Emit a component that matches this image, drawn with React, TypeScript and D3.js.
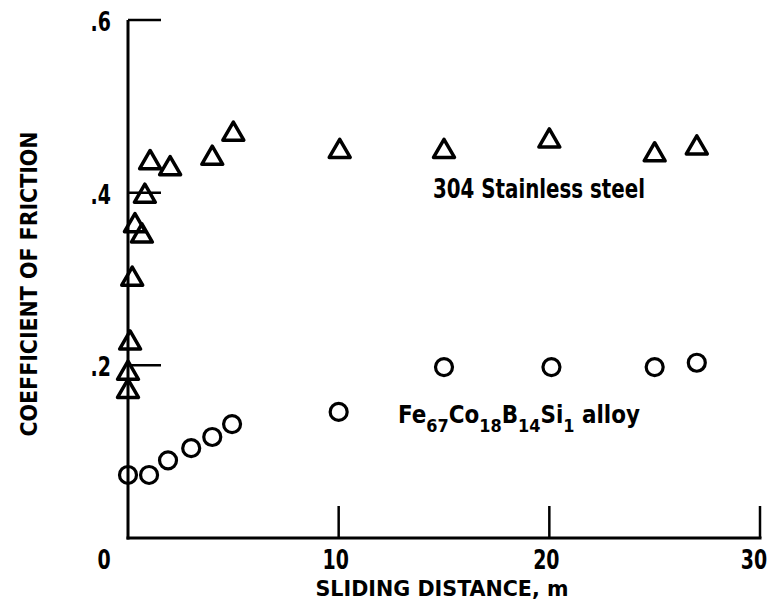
import React from "react";
import * as d3 from "d3";

const steelX = [0, 0, 0.1, 0.2, 0.33, 0.66, 0.8, 1.05, 2.0, 4.0, 5.0, 10.05, 15.0, 20.0, 25.0, 27.0];
const steelY = [0.171, 0.192, 0.227, 0.301, 0.363, 0.351, 0.397, 0.436, 0.429, 0.441, 0.469, 0.449, 0.449, 0.461, 0.445, 0.453];
const alloyX = [0, 1.0, 1.9, 3.0, 4.0, 4.94, 10.0, 15.0, 20.1, 25.0, 27.0];
const alloyY = [0.073, 0.073, 0.09, 0.104, 0.117, 0.132, 0.146, 0.198, 0.198, 0.198, 0.203];
const xTicks = [0, 10, 20, 30];
const xTickLabels = ["0", "10", "20", "30"];
const yTicks = [0.2, 0.4, 0.6];
const yTickLabels = [".2", ".4", ".6"];

const FONT = "'Liberation Sans Narrow', 'DejaVu Sans Condensed', 'Roboto', sans-serif";

export default function App() {
  const W = 773, H = 613;
  const x = d3.scaleLinear().domain([0, 30]).range([128, 760]);
  const y = d3.scaleLinear().domain([0, 0.6]).range([538, 20]);
  const tri = d3.symbol().type(d3.symbolTriangle).size(190);
  const triPath = tri() as string;

  return (
    <svg width={W} height={H} style={{ position: "absolute", left: 0, top: 0, background: "#fff" }}
      fontFamily={FONT} fontWeight="bold">
      <rect width={W} height={H} fill="#fff" />
      {/* axes */}
      <line x1={x(0)} x2={x(0)} y1={y(0.6)} y2={y(0) + 1.5} stroke="#000" strokeWidth={3} />
      <line x1={x(0) - 1.5} x2={x(30) + 1.5} y1={y(0)} y2={y(0)} stroke="#000" strokeWidth={3} />
      {yTicks.map((t, i) => (
        <g key={"yt" + i}>
          <line x1={x(0)} x2={x(0) + 33} y1={y(t)} y2={y(t)} stroke="#000" strokeWidth={2.5} />
          <text transform={`translate(111,${y(t) + 11}) scale(0.78,1)`} textAnchor="end" fontSize={27}>{yTickLabels[i]}</text>
        </g>
      ))}
      {xTicks.map((t, i) => (
        <g key={"xt" + i}>
          {t > 0 && <line x1={x(t)} x2={x(t)} y1={y(0)} y2={y(0) - 32} stroke="#000" strokeWidth={2.5} />}
          <text transform={`translate(${t === 0 ? 104 : t === 30 ? x(t) - 6 : x(t) - 3},569) scale(0.78,1)`}
            textAnchor="middle" fontSize={27}>{xTickLabels[i]}</text>
        </g>
      ))}
      {/* axis titles */}
      <text x={442} y={596} textAnchor="middle" fontSize={22} textLength={253} lengthAdjust="spacingAndGlyphs">SLIDING DISTANCE, m</text>
      <text transform={`translate(37,284) rotate(-90)`} textAnchor="middle" fontSize={23} textLength={305} lengthAdjust="spacingAndGlyphs">COEFFICIENT OF FRICTION</text>
      {/* series labels */}
      <text x={433} y={198} fontSize={26} textLength={212} lengthAdjust="spacingAndGlyphs">304 Stainless steel</text>
      <text x={398} y={423} fontSize={24} textLength={242} lengthAdjust="spacingAndGlyphs">
        Fe<tspan fontSize={18} dy={9}>67</tspan><tspan dy={-9}>Co</tspan><tspan fontSize={18} dy={9}>18</tspan><tspan dy={-9}>B</tspan><tspan fontSize={18} dy={9}>14</tspan><tspan dy={-9}>Si</tspan><tspan fontSize={18} dy={9}>1</tspan><tspan dy={-9}> alloy</tspan>
      </text>
      {/* markers */}
      {steelX.map((v, i) => (
        <path key={"s" + i} d={triPath} transform={`translate(${x(v)},${y(steelY[i]) + 1})`}
          fill="none" stroke="#000" strokeWidth={3.5} strokeLinejoin="round" />
      ))}
      {alloyX.map((v, i) => (
        <circle key={"a" + i} cx={x(v)} cy={y(alloyY[i])} r={8.5} fill="none" stroke="#000" strokeWidth={3.2} />
      ))}
    </svg>
  );
}
